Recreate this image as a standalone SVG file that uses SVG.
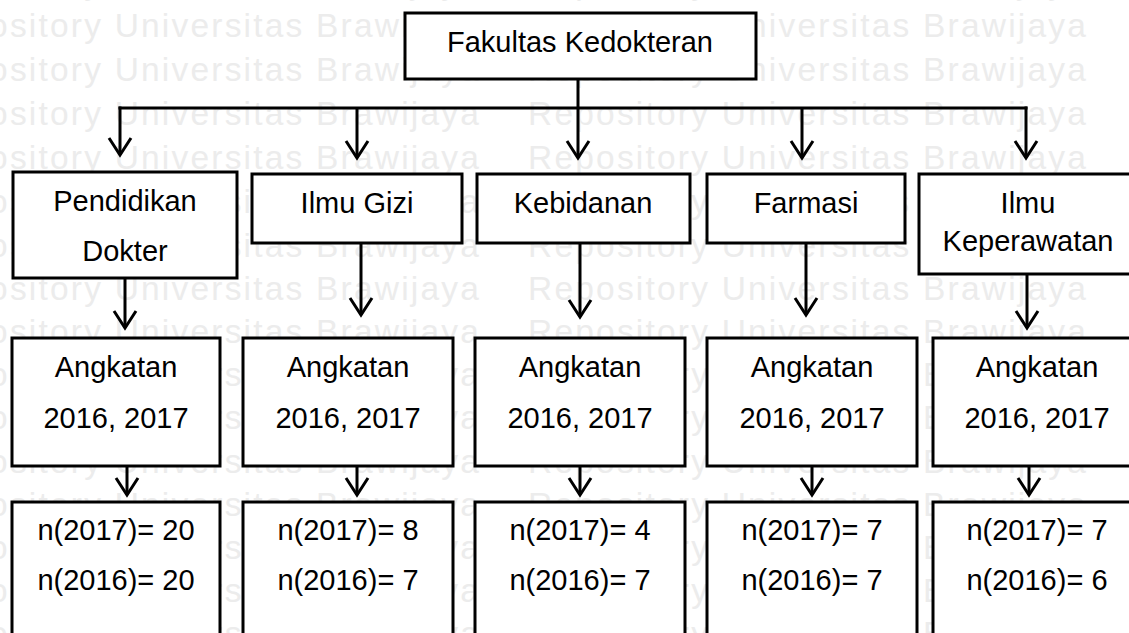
<svg xmlns="http://www.w3.org/2000/svg" width="1129" height="633" viewBox="0 0 1129 633">
<style>
.wm{font-family:"Liberation Sans",Arial,sans-serif;font-size:33.5px;letter-spacing:2.2px;fill:#ececec}
.box{fill:#fff;stroke:#000;stroke-width:3}
.t{font-family:"Liberation Sans",Arial,sans-serif;font-size:29px;fill:#000;text-anchor:middle}
.c{fill:none;stroke:#000;stroke-width:3}
</style>
<defs>
<marker id="ah" markerUnits="userSpaceOnUse" markerWidth="40" markerHeight="40" viewBox="-20 -20 40 40" refX="0" refY="0" orient="auto" overflow="visible">
<path d="M-17,-11 L0,0 L-17,11" fill="none" stroke="#000" stroke-width="3"/>
</marker>
</defs>
<rect width="1129" height="633" fill="#fff"/>
<g id="watermark" class="wm">
<text x="-79" y="-6">Repository Universitas Brawijaya</text><text x="528" y="-6">Repository Universitas Brawijaya</text>
<text x="-79" y="37">Repository Universitas Brawijaya</text><text x="528" y="37">Repository Universitas Brawijaya</text>
<text x="-79" y="81">Repository Universitas Brawijaya</text><text x="528" y="81">Repository Universitas Brawijaya</text>
<text x="-79" y="125">Repository Universitas Brawijaya</text><text x="528" y="125">Repository Universitas Brawijaya</text>
<text x="-79" y="169">Repository Universitas Brawijaya</text><text x="528" y="169">Repository Universitas Brawijaya</text>
<text x="-79" y="213">Repository Universitas Brawijaya</text><text x="528" y="213">Repository Universitas Brawijaya</text>
<text x="-79" y="257">Repository Universitas Brawijaya</text><text x="528" y="257">Repository Universitas Brawijaya</text>
<text x="-79" y="300">Repository Universitas Brawijaya</text><text x="528" y="300">Repository Universitas Brawijaya</text>
<text x="-79" y="343">Repository Universitas Brawijaya</text><text x="528" y="343">Repository Universitas Brawijaya</text>
<text x="-79" y="386">Repository Universitas Brawijaya</text><text x="528" y="386">Repository Universitas Brawijaya</text>
<text x="-79" y="429">Repository Universitas Brawijaya</text><text x="528" y="429">Repository Universitas Brawijaya</text>
<text x="-79" y="473">Repository Universitas Brawijaya</text><text x="528" y="473">Repository Universitas Brawijaya</text>
<text x="-79" y="516">Repository Universitas Brawijaya</text><text x="528" y="516">Repository Universitas Brawijaya</text>
<text x="-79" y="559">Repository Universitas Brawijaya</text><text x="528" y="559">Repository Universitas Brawijaya</text>
<text x="-79" y="602">Repository Universitas Brawijaya</text><text x="528" y="602">Repository Universitas Brawijaya</text>
<text x="-79" y="645">Repository Universitas Brawijaya</text><text x="528" y="645">Repository Universitas Brawijaya</text>
</g>
<g id="connectors">
<line class="c" x1="578" y1="79" x2="578" y2="158" marker-end="url(#ah)"/>
<line class="c" x1="118.5" y1="108" x2="1027.5" y2="108"/>
<line class="c" x1="120" y1="106.5" x2="120" y2="155" marker-end="url(#ah)"/>
<line class="c" x1="357" y1="108" x2="357" y2="158" marker-end="url(#ah)"/>
<line class="c" x1="802" y1="108" x2="802" y2="158" marker-end="url(#ah)"/>
<line class="c" x1="1026" y1="106.5" x2="1026" y2="158" marker-end="url(#ah)"/>
<line class="c" x1="125" y1="278" x2="125" y2="328" marker-end="url(#ah)"/>
<line class="c" x1="361" y1="243" x2="361" y2="315" marker-end="url(#ah)"/>
<line class="c" x1="580" y1="243" x2="580" y2="317" marker-end="url(#ah)"/>
<line class="c" x1="806" y1="243" x2="806" y2="315" marker-end="url(#ah)"/>
<line class="c" x1="1027" y1="274" x2="1027" y2="328" marker-end="url(#ah)"/>
<line class="c" x1="127" y1="466" x2="127" y2="495" marker-end="url(#ah)"/>
<line class="c" x1="357" y1="466" x2="357" y2="495" marker-end="url(#ah)"/>
<line class="c" x1="580" y1="466" x2="580" y2="495" marker-end="url(#ah)"/>
<line class="c" x1="812" y1="466" x2="812" y2="495" marker-end="url(#ah)"/>
<line class="c" x1="1029" y1="466" x2="1029" y2="495" marker-end="url(#ah)"/>
</g>
<g id="fakultas"><rect class="box" x="405" y="13" width="351" height="66"/><text class="t" x="580" y="52">Fakultas Kedokteran</text></g>
<g id="pendidikan-dokter"><rect class="box" x="13" y="172" width="224" height="106"/><text class="t" x="125" y="211">Pendidikan</text><text class="t" x="125" y="261">Dokter</text></g>
<g id="ilmu-gizi"><rect class="box" x="252" y="174" width="210" height="69"/><text class="t" x="357" y="213">Ilmu Gizi</text></g>
<g id="kebidanan"><rect class="box" x="477" y="174" width="213" height="69"/><text class="t" x="583" y="213">Kebidanan</text></g>
<g id="farmasi"><rect class="box" x="707" y="174" width="198" height="69"/><text class="t" x="806" y="213">Farmasi</text></g>
<g id="ilmu-keperawatan"><rect class="box" x="919" y="174" width="218" height="100"/><text class="t" x="1028" y="213">Ilmu</text><text class="t" x="1028" y="251">Keperawatan</text></g>
<g id="angkatan-pd"><rect class="box" x="12" y="338" width="208" height="128"/><text class="t" x="116" y="377">Angkatan</text><text class="t" x="116" y="428">2016, 2017</text></g>
<g id="angkatan-ig"><rect class="box" x="243" y="338" width="210" height="128"/><text class="t" x="348" y="377">Angkatan</text><text class="t" x="348" y="428">2016, 2017</text></g>
<g id="angkatan-kb"><rect class="box" x="475" y="338" width="210" height="128"/><text class="t" x="580" y="377">Angkatan</text><text class="t" x="580" y="428">2016, 2017</text></g>
<g id="angkatan-fm"><rect class="box" x="707" y="338" width="210" height="128"/><text class="t" x="812" y="377">Angkatan</text><text class="t" x="812" y="428">2016, 2017</text></g>
<g id="angkatan-ik"><rect class="box" x="933" y="338" width="208" height="128"/><text class="t" x="1037" y="377">Angkatan</text><text class="t" x="1037" y="428">2016, 2017</text></g>
<g id="n-pd"><rect class="box" x="12" y="502" width="208" height="145"/><text class="t" x="116" y="540">n(2017)= 20</text><text class="t" x="116" y="590">n(2016)= 20</text></g>
<g id="n-ig"><rect class="box" x="243" y="502" width="210" height="145"/><text class="t" x="348" y="540">n(2017)= 8</text><text class="t" x="348" y="590">n(2016)= 7</text></g>
<g id="n-kb"><rect class="box" x="475" y="502" width="210" height="145"/><text class="t" x="580" y="540">n(2017)= 4</text><text class="t" x="580" y="590">n(2016)= 7</text></g>
<g id="n-fm"><rect class="box" x="707" y="502" width="210" height="145"/><text class="t" x="812" y="540">n(2017)= 7</text><text class="t" x="812" y="590">n(2016)= 7</text></g>
<g id="n-ik"><rect class="box" x="933" y="502" width="208" height="145"/><text class="t" x="1037" y="540">n(2017)= 7</text><text class="t" x="1037" y="590">n(2016)= 6</text></g>
</svg>
